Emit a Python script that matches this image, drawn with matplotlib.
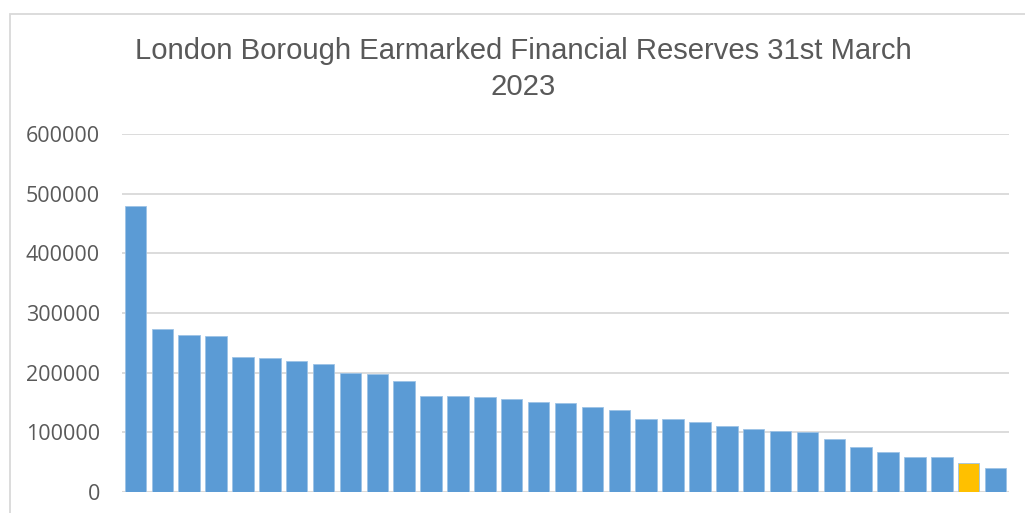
import matplotlib
matplotlib.use("Agg")
import matplotlib.pyplot as plt
from matplotlib.patches import Rectangle

title = "London Borough Earmarked Financial Reserves 31st March\n2023"
values = [480000, 273700, 263100, 261500, 225700, 224600, 219000, 214500,
          198900, 197800, 186000, 160300, 160600, 159800, 155300, 150300,
          149700, 141900, 138000, 122900, 121800, 116800, 110800, 106100,
          102800, 101100, 88900, 75000, 67800, 58900, 58900, 49400, 40600]
highlight_index = 31
yticks = [0, 100000, 200000, 300000, 400000, 500000, 600000]

W, H = 1025, 513
fig = plt.figure(figsize=(W / 100, H / 100), dpi=100)
fig.patch.set_facecolor("white")
plt.rcParams["font.family"] = ["Liberation Sans", "DejaVu Sans"]

# chart border
fig.patches.append(Rectangle((9.5 / W, -0.1), 1.2, (H - 14) / H + 0.1,
                             transform=fig.transFigure, fill=False,
                             edgecolor="#D9D9D9", linewidth=1.3))

ax = fig.add_axes([122 / W, 21 / H, (1009 - 122) / W, (492 - 134) / H])
colors = ["#5B9BD5"] * len(values)
colors[highlight_index] = "#FFC000"
x = list(range(len(values)))
ax.bar(x, values, width=0.8, color=colors, edgecolor="#9DC3E6",
       linewidth=0.6, zorder=3)
ax.set_xlim(-0.5, len(values) - 0.5)
ax.set_ylim(0, 600000)
ax.set_yticks(yticks)
ax.set_yticklabels([str(v) for v in yticks])
ax.tick_params(axis="y", length=0, pad=16, labelsize=15.5, labelcolor="#595959")
for lab in ax.get_yticklabels():
    lab.set_family(["Open Sans", "DejaVu Sans"])
ax.set_xticks([])
ax.grid(axis="y", color="#D9D9D9", linewidth=1.3, zorder=0)
for s in ax.spines.values():
    s.set_visible(False)
ax.axhline(0, color="#D9D9D9", linewidth=1.5, zorder=2)

fig.text(523 / W, (H - 69) / H, title, ha="center", va="center",
         fontsize=21.1, color="#595959", linespacing=1.35)

fig.savefig("out.png", dpi=100)
